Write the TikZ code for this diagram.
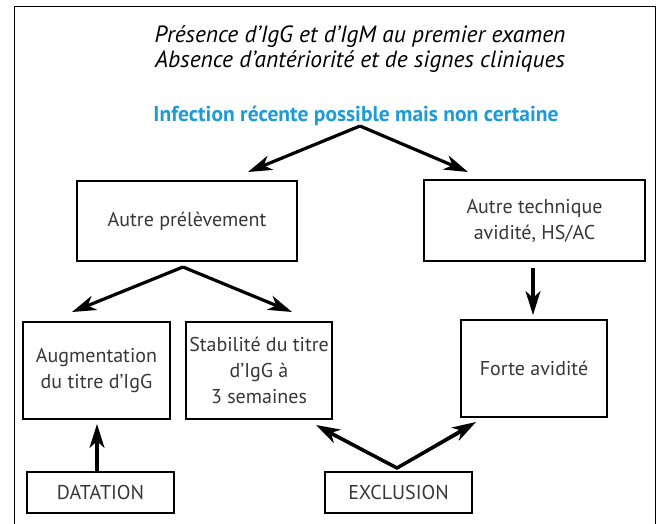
\documentclass[tikz,border=0pt]{standalone}
\usepackage{fontspec}
\setmainfont{PT Sans}
\usetikzlibrary{arrows.meta}

\definecolor{infblue}{RGB}{30,155,215}
\definecolor{boxtext}{RGB}{55,55,55}

\tikzset{
  box/.style={draw, line width=1.3pt, text=boxtext, align=center,
    inner sep=1pt, font=\fontsize{20}{26}\selectfont},
  fleche/.style={line width=3.2pt, -{Stealth[length=24pt, width=15pt, inset=7pt]}},
}

\begin{document}
\begin{tikzpicture}[x=1pt, y=-1pt]
  \useasboundingbox (0,0) rectangle (664,524);

  % cadre ouvert en bas
  \draw[line width=1pt] (14,530) -- (14,7) -- (655,7) -- (655,530);

  \node (ligne1) at (360,37) {\fontsize{23.5}{28}\selectfont\itshape Présence d’IgG et d’IgM au premier examen};
  \node (ligne2) at (360,62) {\fontsize{23.5}{28}\selectfont\itshape Absence d’antériorité et de signes cliniques};
  \node[text=infblue] (infect) at (356,116) {\fontsize{21.5}{26}\selectfont\bfseries Infection récente possible mais non certaine};

  % boites
  \node[box, minimum width=220pt, minimum height=80pt] (prel) at (187,221) {Autre prélèvement};
  \node[box, minimum width=221pt, minimum height=81pt] (tech) at (534.5,220.5) {Autre technique\\avidité, HS/AC};
  \node[box, minimum width=147pt, minimum height=97pt] (augm) at (96.5,370.5) {Augmentation\\du titre d’IgG};
  \node[box, minimum width=146pt, minimum height=97pt] (stab) at (259,370.5) {Stabilité du titre\\d’IgG à\\3 semaines};
  \node[box, minimum width=146pt, minimum height=97pt] (forte) at (534,368.5) {Forte avidité};
  \node[box, minimum width=147pt, minimum height=41pt] (dat) at (100.5,492.5) {DATATION};
  \node[box, minimum width=147pt, minimum height=41pt] (excl) at (398.5,492.5) {EXCLUSION};

  % points de depart et d'arrivee des fleches
  \coordinate (inf-pt) at (360,126);
  \coordinate (prel-pt) at (183,267);
  \coordinate (excl-pt) at (397,468);

  \draw[fleche] (inf-pt) -- (248,172);
  \draw[fleche] (inf-pt) -- (468,172);
  \draw[fleche] (prel-pt) -- (72,312);
  \draw[fleche] (prel-pt) -- (292,312);
  \draw[fleche] (tech.south -| 533,0) ++(0,6) -- (533,315);
  \draw[fleche] (dat.north -| 97,0) -- (97,424);
  \draw[line width=3.2pt, line join=miter] (330,433) -- (excl-pt) -- (462,431);
  \draw[fleche] (excl-pt) -- (316,425);
  \draw[fleche] (excl-pt) -- (476,422);
\end{tikzpicture}
\end{document}
